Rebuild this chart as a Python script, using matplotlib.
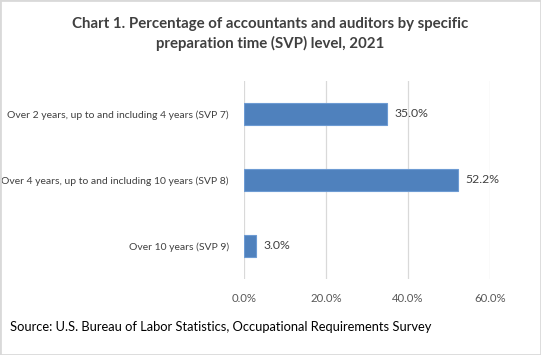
import matplotlib.pyplot as plt
from matplotlib.patches import Rectangle

# data
categories = ["Over 2 years, up to and including 4 years (SVP 7)",
              "Over 4 years, up to and including 10 years (SVP 8)",
              "Over 10 years (SVP 9)"]
values = [35.0, 52.2, 3.0]
xticks = [0, 20, 40, 60]

plt.rcParams['font.family'] = ['Lato', 'DejaVu Sans']

W, H = 541, 355
fig = plt.figure(figsize=(W / 100, H / 100), dpi=100)
fig.patch.set_facecolor("white")
fig.patches.append(Rectangle((0, 0), 1, 1, transform=fig.transFigure,
                             fill=False, edgecolor="#d9d9d9", linewidth=2))

ax = fig.add_axes([244 / W, 1 - 279 / H, (490 - 244) / W, (279 - 81) / H])

y = list(range(len(categories)))
ax.barh(y, values, height=0.33, color="#4f81bd", edgecolor="#6d9bd3", linewidth=0.8, zorder=3)
for yi, v in zip(y, values):
    ax.text(v + 1.8, yi, f"{v:.1f}%", va="center", ha="left", fontsize=8.8, color="#404040")

ax.set_xlim(0, 60)
ax.set_ylim(len(categories) - 0.5, -0.5)
ax.set_xticks(xticks)
ax.set_xticklabels([f"{t:.1f}%" for t in xticks], fontsize=8.2, color="#595959")
ax.set_yticks(y)
ax.set_yticklabels(categories, fontsize=7.5, color="#404040")
ax.tick_params(length=0, pad=11)
ax.tick_params(axis="x", pad=10)
ax.grid(axis="x", color="#d9d9d9", linewidth=0.9, zorder=0)
for s in ax.spines.values():
    s.set_visible(False)

fig.text(0.5, 1 - 34 / H, "Chart 1. Percentage of accountants and auditors by specific\npreparation time (SVP) level, 2021",
         ha="center", va="center", fontsize=10.8, fontweight="bold", color="#404040", linespacing=1.45)
fig.text(10 / W, 1 - 327 / H, "Source: U.S. Bureau of Labor Statistics, Occupational Requirements Survey",
         ha="left", va="center", fontsize=9.3, color="black")

fig.savefig("out.png", dpi=100)
